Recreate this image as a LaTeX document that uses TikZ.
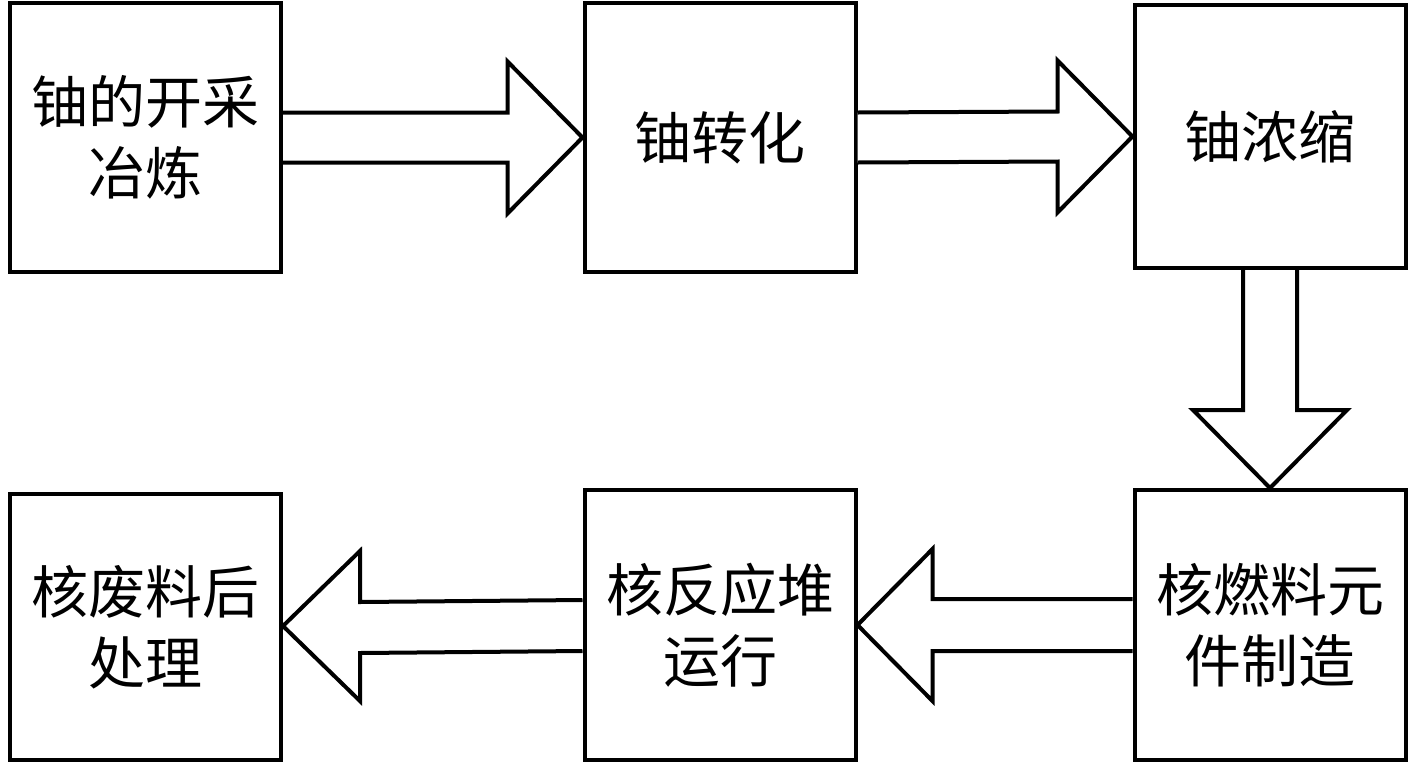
\documentclass[tikz,border=0pt]{standalone}
\usepackage{fontspec}
\newfontfamily\cjk{Noto Sans CJK SC}
\usetikzlibrary{calc}
\tikzset{
  box/.style={draw, line width=4pt, minimum width=271pt, minimum height=269pt, inner sep=0pt, align=center,
    font=\cjk\fontsize{57pt}{71pt}\selectfont},
  barrow/.style={draw, line width=4pt, line join=miter, fill=white}
}
\begin{document}
\begin{tikzpicture}[x=1pt,y=-1pt]
\useasboundingbox (0,0) rectangle (1417,764);
\node[box] (b1) at (145.5,137.5) {铀的开采\\冶炼};
\node[box] (b2) at (720,137.5) {铀转化};
\node[box, minimum height=263pt] (b3) at (1270,136.5) {铀浓缩};
\node[box, minimum height=270pt] (b4) at (1270,625) {核燃料元\\件制造};
\node[box, minimum height=270pt] (b5) at (720,625) {核反应堆\\运行};
\node[box, minimum height=266pt] (b6) at (145.5,627) {核废料后\\处理};
% right arrows
\draw[barrow] ($(b1.east)+(0,-25)$) -- ($(b2.west)+(-75,-25)$) -- ($(b2.west)+(-75,-76)$) -- (b2.west)
  -- ($(b2.west)+(-75,76)$) -- ($(b2.west)+(-75,25)$) -- ($(b1.east)+(0,25)$);
\draw[barrow] ($(b2.east)+(0,-25)$) -- ($(b3.west)+(-75,-25)$) -- ($(b3.west)+(-75,-76)$) -- (b3.west)
  -- ($(b3.west)+(-75,76)$) -- ($(b3.west)+(-75,25)$) -- ($(b2.east)+(0,25)$);
% down arrow
\draw[barrow] ($(b3.south)+(-27,0)$) -- ($(b4.north)+(-27,-78)$) -- ($(b4.north)+(-77,-78)$) -- (b4.north)
  -- ($(b4.north)+(77,-78)$) -- ($(b4.north)+(27,-78)$) -- ($(b3.south)+(27,0)$);
% left arrows
\draw[barrow] ($(b4.west)+(0,-26)$) -- ($(b5.east)+(75,-26)$) -- ($(b5.east)+(75,-76)$) -- (b5.east)
  -- ($(b5.east)+(75,76)$) -- ($(b5.east)+(75,26)$) -- ($(b4.west)+(0,26)$);
\draw[barrow] ($(b5.west)+(0,-25)$) -- ($(b6.east)+(77,-25)$) -- ($(b6.east)+(77,-76)$) -- ($(b6.east)+(0,-1)$)
  -- ($(b6.east)+(77,74)$) -- ($(b6.east)+(77,26)$) -- ($(b5.west)+(0,26)$);
\end{tikzpicture}
\end{document}
